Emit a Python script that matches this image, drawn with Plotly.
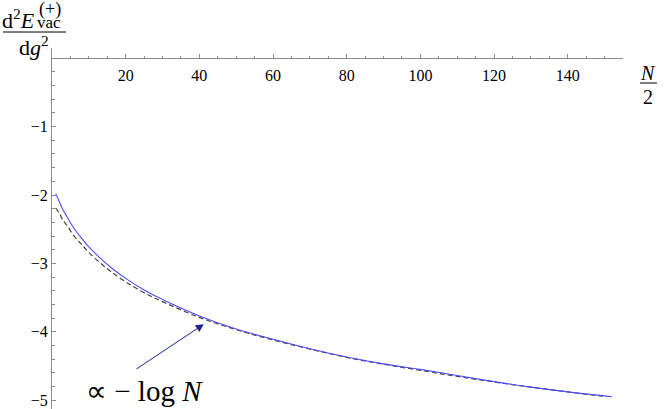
import plotly.graph_objects as go

# blue curve
x_blue = [1, 2, 3, 4, 6, 8, 10, 13, 16, 20, 25, 30, 40, 50, 60, 70, 80, 90,
          100, 110, 120, 130, 140, 152]
y_blue = [-1.98, -2.10, -2.22, -2.31, -2.49, -2.63, -2.76, -2.92, -3.06, -3.22,
          -3.39, -3.53, -3.77, -3.96, -4.11, -4.25, -4.37, -4.47, -4.55, -4.64,
          -4.73, -4.81, -4.88, -4.95]

# dashed asymptotic curve
x_dash = [1, 2, 3, 4, 6, 8, 10, 13, 16, 20, 25, 30, 40, 50, 60, 80, 100, 120,
          140, 150]
y_dash = [-2.19, -2.27, -2.37, -2.44, -2.60, -2.72, -2.84, -2.99, -3.12, -3.27,
          -3.43, -3.56, -3.79, -3.97, -4.12, -4.375, -4.565, -4.735, -4.88,
          -4.945]

x_ticks = [20, 40, 60, 80, 100, 120, 140]
y_ticks = [-1, -2, -3, -4, -5]
y_ticktext = ["\u22121", "\u22122", "\u22123", "\u22124", "\u22125"]

W, H = 664, 409
ML, MR, MT, MB = 52, 41, 48, 0
YR = [-5.13, 0.15]
SERIF = "Liberation Serif"


def px(p):
    return (p - ML) / (W - ML - MR)


def py(p):
    return (H - MB - p) / (H - MT - MB)


fig = go.Figure()
fig.add_trace(go.Scatter(x=x_dash, y=y_dash, mode="lines", line_shape="spline",
                         line=dict(color="#444444", width=1.2, dash="5px,3px")))
fig.add_trace(go.Scatter(x=x_blue, y=y_blue, mode="lines", line_shape="spline",
                         line=dict(color="#4d4dff", width=1.1)))

axis_col = "#8c8c8c"
fig.update_xaxes(range=[0, 155], anchor="free", position=(0 - YR[0]) / (YR[1] - YR[0]),
                 side="bottom", showline=True, linecolor=axis_col, linewidth=1,
                 showgrid=False, zeroline=False,
                 tickmode="array", tickvals=x_ticks, ticks="inside", ticklen=4,
                 tickcolor=axis_col, ticklabelstandoff=3,
                 minor=dict(tickmode="linear", tick0=0, dtick=5, ticks="inside",
                            ticklen=2.5, tickcolor=axis_col),
                 tickfont=dict(family=SERIF, size=16, color="black"))
fig.update_yaxes(range=YR, showline=True, linecolor=axis_col, linewidth=1,
                 showgrid=False, zeroline=False,
                 tickmode="array", tickvals=y_ticks, ticktext=y_ticktext,
                 ticks="inside", ticklen=4, tickcolor=axis_col,
                 minor=dict(tickmode="linear", tick0=0, dtick=0.2, ticks="inside",
                            ticklen=2.5, tickcolor=axis_col),
                 tickfont=dict(family=SERIF, size=16, color="black"))

ann = []
# y axis label as a fraction
ann.append(dict(text="d<sup>2</sup><i>E</i>", x=px(18), y=py(19), size=22))
ann.append(dict(text="(+)", x=px(50), y=py(10), size=18))
ann.append(dict(text="vac", x=px(49), y=py(22), size=17))
ann.append(dict(text="d<i>g</i><sup>2</sup>", x=px(34), y=py(46), size=22))
# x axis label N/2
ann.append(dict(text="<i>N</i>", x=px(648), y=py(73), size=20))
ann.append(dict(text="2", x=px(648), y=py(97), size=20))

for a in ann:
    fig.add_annotation(text=a["text"], x=a["x"], y=a["y"], xref="paper", yref="paper",
                       showarrow=False, xanchor="center", yanchor="middle",
                       font=dict(family=SERIF, size=a["size"], color="black"))

fig.add_shape(type="line", xref="paper", yref="paper", x0=px(3), x1=px(66),
              y0=py(32), y1=py(32), line=dict(color="black", width=1))
fig.add_shape(type="line", xref="paper", yref="paper", x0=px(640), x1=px(657),
              y0=py(83), y1=py(83), line=dict(color="black", width=1))

# arrow and its label
fig.add_annotation(x=41.2, y=-3.89, ax=22.5, ay=-4.56, xref="x", yref="y",
                   axref="x", ayref="y", text="", showarrow=True, arrowhead=2,
                   arrowsize=1.6, arrowwidth=1, arrowcolor="#20208f")
fig.add_annotation(x=25.2, y=-4.87, xref="x", yref="y", showarrow=False,
                   text="\u221d \u2212 log <i>N</i>",
                   font=dict(family=SERIF, size=29, color="black"))

fig.update_layout(width=W, height=H, margin=dict(l=ML, r=MR, t=MT, b=MB),
                  showlegend=False, plot_bgcolor="white", paper_bgcolor="white")

fig.write_html("out.html", config={"displayModeBar": False},
               post_script="document.body.style.margin='0';")
